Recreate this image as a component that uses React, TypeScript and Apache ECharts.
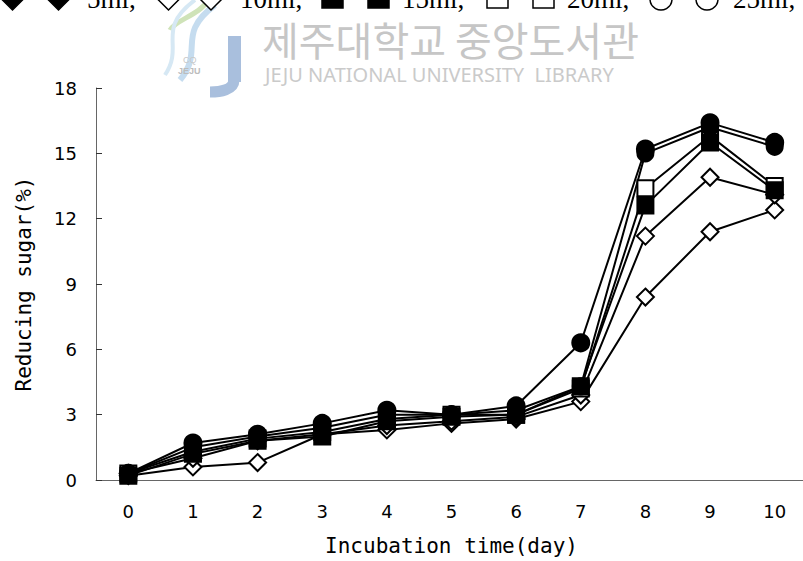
import React, { useEffect, useRef } from "react";
import * as echarts from "echarts";

const days = ["0", "1", "2", "3", "4", "5", "6", "7", "8", "9", "10"];

// Reducing sugar (%) per series
const circleA = [0.3, 1.7, 2.1, 2.6, 3.2, 3.0, 3.4, 6.3, 15.2, 16.4, 15.5];
const circleB = [0.3, 1.5, 2.0, 2.4, 3.0, 3.0, 3.2, 4.3, 15.0, 16.2, 15.3];
const squareOpen = [0.3, 1.3, 1.9, 2.2, 2.8, 3.0, 3.0, 4.2, 13.4, 15.8, 13.5];
const squareFilled = [0.2, 1.2, 1.8, 2.0, 2.7, 2.9, 3.0, 4.3, 12.6, 15.5, 13.3];
const diamondA = [0.3, 1.0, 1.8, 2.1, 2.5, 2.7, 2.9, 3.9, 11.2, 13.9, 13.1];
const diamondB = [0.2, 0.6, 0.8, 2.1, 2.3, 2.6, 2.8, 3.6, 8.4, 11.4, 12.4];

const legendLabels = ["5ml,", "10ml,", "15ml,", "20ml,", "25ml,"];

const xName = "Incubation time(day)";
const yName = "Reducing sugar(%)";

export default function App() {
  const ref = useRef<HTMLDivElement>(null);
  useEffect(() => {
    if (!ref.current) return;
    const chart = echarts.init(ref.current, null, { renderer: "svg" });

    const mk = (name: string, data: number[], symbol: string, size: number, filled: boolean) => ({
      name,
      type: "line",
      data,
      symbol,
      symbolSize: size,
      lineStyle: { color: "#000", width: 2 },
      itemStyle: { color: filled ? "#000" : "#fff", borderColor: "#000", borderWidth: 2 },
      emphasis: { disabled: true },
    });

    const legendFont = '27px "Liberation Serif", serif';
    const diamond = (cx: number, cy: number, h: number, fill: string) => ({
      type: "polygon",
      shape: { points: [[cx, cy - h], [cx + h, cy], [cx, cy + h], [cx - h, cy]] },
      style: { fill, stroke: "#000", lineWidth: 1.5 },
    });
    const square = (x: number, fill: string) => ({
      type: "rect",
      shape: { x, y: -13, width: 21, height: 21 },
      style: { fill, stroke: "#000", lineWidth: 1.5 },
    });
    const circ = (cx: number) => ({
      type: "circle",
      shape: { cx, cy: -1, r: 11 },
      style: { fill: "#fff", stroke: "#000", lineWidth: 1.5 },
    });
    const ltext = (text: string, x: number) => ({
      type: "text",
      x,
      y: -1,
      style: { text, font: legendFont, lineHeight: 27, fill: "#000", verticalAlign: "middle", align: "left" },
    });

    chart.setOption({
      animation: false,
      backgroundColor: "#fff",
      grid: { left: 96, right: 8, top: 88, bottom: 79 },
      xAxis: {
        type: "category",
        data: days,
        boundaryGap: true,
        name: xName,
        nameLocation: "middle",
        nameGap: 55,
        nameTextStyle: { fontSize: 21, color: "#000", fontFamily: "DejaVu Sans Mono" },
        axisLine: { lineStyle: { color: "#666", width: 1 } },
        axisTick: { inside: true, length: 6, lineStyle: { color: "#333" } },
        axisLabel: { fontSize: 18, color: "#000", margin: 22, fontFamily: "DejaVu Sans" },
        splitLine: { show: false },
      },
      yAxis: {
        type: "value",
        min: 0,
        max: 18,
        interval: 3,
        name: yName,
        nameLocation: "middle",
        nameGap: 62,
        nameTextStyle: { fontSize: 21, color: "#000", fontFamily: "DejaVu Sans Mono" },
        axisLine: { show: true, lineStyle: { color: "#666", width: 1 } },
        axisTick: { show: true, inside: true, length: 6, lineStyle: { color: "#333" } },
        axisLabel: { fontSize: 18, color: "#000", margin: 19, fontFamily: "DejaVu Sans" },
        splitLine: { show: false },
      },
      graphic: [
        // watermark
        {
          type: "group",
          z: -10,
          children: [
            { type: "bezierCurve", shape: { x1: 208, y1: 0, x2: 170, y2: 30, cpx1: 200, cpy1: 15, cpx2: 175, cpy2: 20 }, style: { stroke: "#cfe3b8", lineWidth: 5, fill: null } },
            { type: "bezierCurve", shape: { x1: 215, y1: 5, x2: 180, y2: 80, cpx1: 175, cpy1: 35, cpx2: 205, cpy2: 50 }, style: { stroke: "#c5dcef", lineWidth: 6, fill: null } },
            { type: "bezierCurve", shape: { x1: 195, y1: 0, x2: 165, y2: 75, cpx1: 155, cpy1: 30, cpx2: 185, cpy2: 45 }, style: { stroke: "#d6e8f4", lineWidth: 4, fill: null } },
            { type: "rect", shape: { x: 228, y: 36, width: 13, height: 46 }, style: { fill: "#a9bfdd" } },
            { type: "bezierCurve", shape: { x1: 234, y1: 80, x2: 210, y2: 92, cpx1: 234, cpy1: 90, cpx2: 220, cpy2: 92 }, style: { stroke: "#a9bfdd", lineWidth: 11, fill: null } },
            { type: "text", x: 183, y: 55, style: { text: "CQ", font: "9px sans-serif", lineHeight: 9, fill: "#c8c8c8" } },
            { type: "text", x: 178, y: 66, style: { text: "JEJU", font: "bold 9px sans-serif", lineHeight: 9, fill: "#bcbcbc" } },
            {
              type: "text",
              x: 262,
              y: 39,
              style: { text: "제주대학교 중앙도서관", font: '40px "Noto Sans CJK KR"', lineHeight: 40, fill: "#c6c6c6", verticalAlign: "middle" },
            },
            {
              type: "text",
              x: 265,
              y: 74,
              style: { text: "JEJU NATIONAL UNIVERSITY  LIBRARY", font: '20px "Noto Sans"', lineHeight: 20, fill: "#cacaca", verticalAlign: "middle" },
            },
          ],
        },
        // cut-off legend at the top
        {
          type: "group",
          children: [
            diamond(12.5, -1, 11, "#000"),
            diamond(58.5, -1, 11, "#000"),
            ltext(legendLabels[0], 87),
            diamond(168.5, -1, 11, "#fff"),
            diamond(211, -1, 11, "#fff"),
            ltext(legendLabels[1], 240),
            square(322, "#000"),
            square(368, "#000"),
            ltext(legendLabels[2], 402),
            square(487, "#fff"),
            square(533, "#fff"),
            ltext(legendLabels[3], 567),
            circ(661),
            circ(707),
            ltext(legendLabels[4], 733),
          ],
        },
      ],
      series: [
        mk("diamondB", diamondB, "diamond", 17, false),
        mk("diamondA", diamondA, "diamond", 17, false),
        mk("squareOpen", squareOpen, "rect", 16, false),
        mk("squareFilled", squareFilled, "rect", 16, true),
        mk("circleB", circleB, "circle", 16, true),
        mk("circleA", circleA, "circle", 17, true),
      ],
    });
    return () => chart.dispose();
  }, []);
  return (
    <div style={{ position: "fixed", left: 0, top: 0, width: 803, height: 561, overflow: "hidden", background: "#fff" }}>
      <div ref={ref} style={{ width: 815, height: 561 }} />
    </div>
  );
}
